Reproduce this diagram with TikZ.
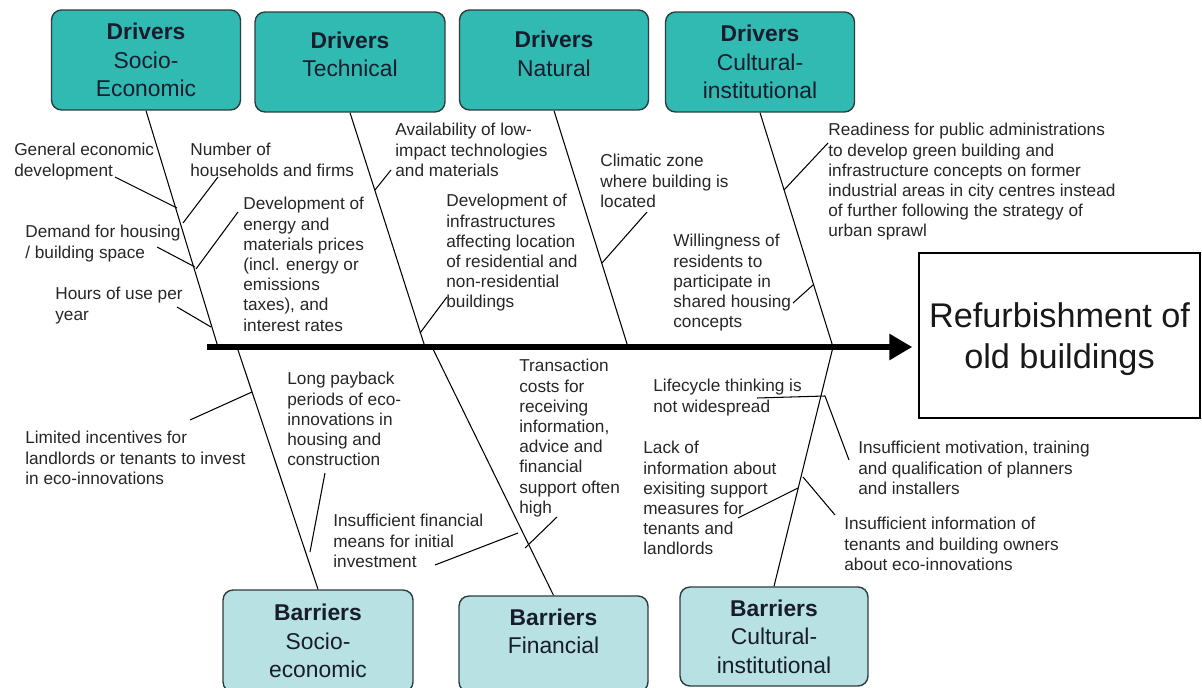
\documentclass[tikz,border=0pt]{standalone}
\usepackage{fontspec}
\setmainfont{Liberation Sans}
\usetikzlibrary{arrows.meta}

\definecolor{drvteal}{RGB}{48,186,178}
\definecolor{barteal}{RGB}{183,225,226}
\definecolor{boxline}{RGB}{45,60,62}
\definecolor{boxtext}{RGB}{25,28,45}

\tikzset{
  drvbox/.style={draw=boxline, line width=0.8pt, fill=drvteal, rounded corners=0.2cm,
    align=center, text=boxtext, inner sep=0pt, minimum width=3.78cm, minimum height=2cm,
    font=\fontsize{13}{16.2}\selectfont},
  barbox/.style={drvbox, fill=barteal},
  cause/.style={anchor=north west, align=left, inner sep=0pt, text=black!85,
    font=\fontsize{9.8}{11.5}\selectfont},
  bone/.style={line width=0.6pt},
  spine/.style={line width=3.3pt, -{Triangle[length=0.46cm, width=0.5cm]}},
}

\begin{document}
\begin{tikzpicture}[x=0.02cm, y=-0.02cm]
    \useasboundingbox (0,0) rectangle (1202,688);
    \clip (0,0) rectangle (1202,688);

    % drivers and barriers
    \node[drvbox] (dse) at (146,60) {\textbf{Drivers}\\Socio-\\Economic};
    \node[drvbox, minimum width=3.8cm, text depth=0.32cm] (dte) at (350,62) {\textbf{Drivers}\\Technical};
    \node[drvbox, text depth=0.26cm] (dna) at (554,60) {\textbf{Drivers}\\Natural};
    \node[drvbox] (dci) at (760,62) {\textbf{Drivers}\\Cultural-\\institutional};

    \node[barbox, minimum width=3.8cm, minimum height=2.04cm] (bse) at (318,641) {\textbf{Barriers}\\Socio-\\economic};
    \node[barbox, minimum height=1.92cm, text depth=0.52cm] (bfi) at (553.5,644) {\textbf{Barriers}\\Financial};
    \node[barbox, minimum width=3.76cm, minimum height=1.98cm] (bci) at (774,636.5) {\textbf{Barriers}\\Cultural-\\institutional};

    \node[draw, line width=0.8pt, minimum width=5.62cm, minimum height=3.3cm, align=center, text depth=-0.06cm,
      text=black!90, font=\fontsize{19.5}{23.3}\selectfont] (res) at (1059.5,335.5) {Refurbishment of\\old buildings};

    % spine
    \coordinate (tail) at (207,347);
    \draw[spine, shorten >=0.12cm] (tail) -- (tail -| res.west);

    \coordinate (jse) at (218,347);
    \coordinate (jte) at (425,347);
    \coordinate (jna) at (628,347);
    \coordinate (jci) at (833,347);
    \coordinate (kse) at (237,347);
    \coordinate (kfi) at (432,347);

    \draw[bone] (dse.south) -- (jse);
    \draw[bone] (dte.south) -- (jte);
    \draw[bone] (dna.south) -- (jna);
    \draw[bone] (dci.south) -- (jci);
    \draw[bone] (kse) -- (bse.north);
    \draw[bone] (kfi) -- (bfi.north);
    \draw[bone] (jci) -- (bci.north);

    % causes
    \node[cause] (gen) at (14,143) {General economic\\development};
    \node[cause] (hou) at (190,143) {Number of\\households and firms};
    \node[cause] (dem) at (25,225) {Demand for housing\\/ building space};
    \node[cause] (pri) at (243,197) {Development of\\energy and\\materials prices\\(incl. energy or\\emissions\\taxes), and\\interest rates};
    \node[cause] (hrs) at (55,287) {Hours of use per\\year};
    \node[cause] (ava) at (395,123) {Availability of low-\\impact technologies\\and materials};
    \node[cause] (inf) at (446,194) {Development of\\infrastructures\\affecting location\\of residential and\\non-residential\\buildings};
    \node[cause] (cli) at (600,154) {Climatic zone\\where building is\\located};
    \node[cause] (wil) at (673,234) {Willingness of\\residents to\\participate in\\shared housing\\concepts};
    \node[cause] (rea) at (828,123) {Readiness for public administrations\\to develop green building and\\infrastructure concepts on former\\industrial areas in city centres instead\\of further following the strategy of\\urban sprawl};
    \node[cause] (lim) at (25,431) {Limited incentives for\\landlords or tenants to invest\\in eco-innovations};
    \node[cause] (pay) at (287,372) {Long payback\\periods of eco-\\innovations in\\housing and\\construction};
    \node[cause] (fin) at (333,514) {Insufficient financial\\means for initial\\investment};
    \node[cause] (tra) at (519,359) {Transaction\\costs for\\receiving\\information,\\advice and\\financial\\support often\\high};
    \node[cause] (lif) at (653,379) {Lifecycle thinking is\\not widespread};
    \node[cause] (lac) at (643,441) {Lack of\\information about\\exisiting support\\measures for\\tenants and\\landlords};
    \node[cause] (mot) at (858,441) {Insufficient motivation, training\\and qualification of planners\\and installers};
    \node[cause] (ino) at (844,517) {Insufficient information of\\tenants and building owners\\about eco-innovations};

    % ribs
    \coordinate (gen1) at (115,177); \coordinate (gen2) at (177,208);
    \coordinate (hou1) at (218,177); \coordinate (hou2) at (183,223);
    \coordinate (dem1) at (157,247); \coordinate (dem2) at (195,267);
    \coordinate (pri1) at (238,212); \coordinate (pri2) at (196,269);
    \coordinate (hrs1) at (177,307); \coordinate (hrs2) at (211,327);
    \coordinate (ava1) at (391,170); \coordinate (ava2) at (375,190);
    \coordinate (inf1) at (447,297); \coordinate (inf2) at (420,333);
    \coordinate (cli1) at (647,212); \coordinate (cli2) at (602,263);
    \coordinate (wil1) at (793,303); \coordinate (wil2) at (813,285);
    \coordinate (rea1) at (828,143); \coordinate (rea2) at (784,190);
    \coordinate (lim1) at (190,420); \coordinate (lim2) at (252,392);
    \coordinate (pay1) at (325,473); \coordinate (pay2) at (310,552);
    \coordinate (fin1) at (435,565); \coordinate (fin2) at (518,533);
    \coordinate (tra1) at (557,517); \coordinate (tra2) at (525,548);
    \coordinate (lif1) at (757,398); \coordinate (lif2) at (825,396);
    \coordinate (mot1) at (849,460);
    \coordinate (lac1) at (738,518); \coordinate (lac2) at (798,488);
    \coordinate (ino1) at (835,515); \coordinate (ino2) at (803,477);

    \draw[bone] (gen1) -- (gen2);
    \draw[bone] (hou1) -- (hou2);
    \draw[bone] (dem1) -- (dem2);
    \draw[bone] (pri1) -- (pri2);
    \draw[bone] (hrs1) -- (hrs2);
    \draw[bone] (ava1) -- (ava2);
    \draw[bone] (inf1) -- (inf2);
    \draw[bone] (cli1) -- (cli2);
    \draw[bone] (wil1) -- (wil2);
    \draw[bone] (rea1) -- (rea2);
    \draw[bone] (lim1) -- (lim2);
    \draw[bone] (pay1) -- (pay2);
    \draw[bone] (fin1) -- (fin2);
    \draw[bone] (tra1) -- (tra2);
    \draw[bone] (lif1) -- (lif2);
    \draw[bone] (lif2) -- (mot1);
    \draw[bone] (lac1) -- (lac2);
    \draw[bone] (ino2) -- (ino1);
\end{tikzpicture}
\end{document}
